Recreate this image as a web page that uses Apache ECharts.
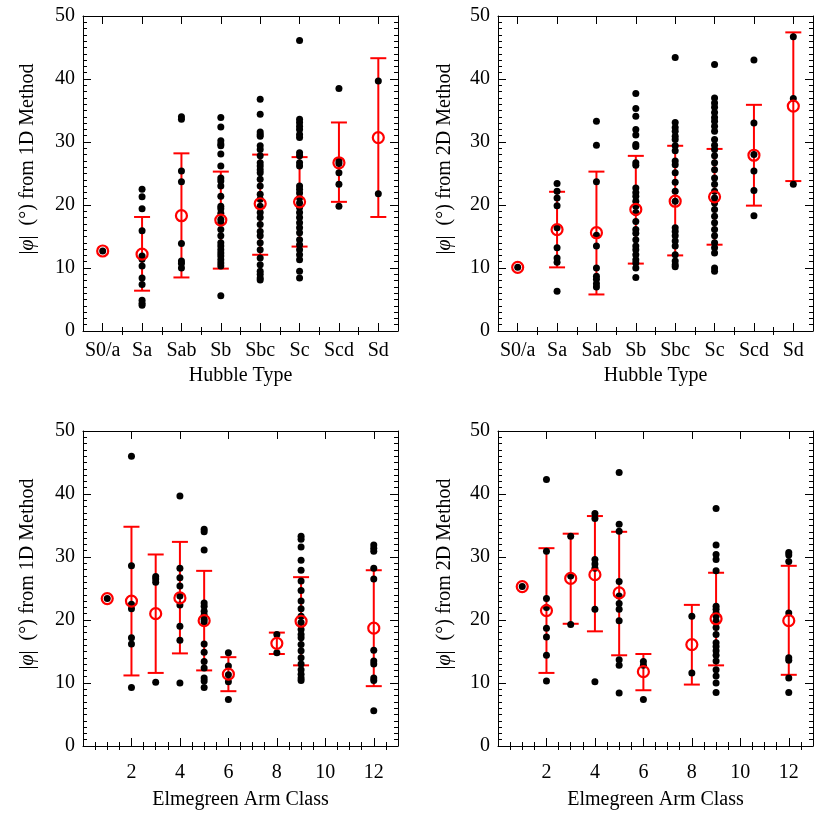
<!DOCTYPE html>
<html><head><meta charset="utf-8">
<script src="https://cdn.jsdelivr.net/npm/echarts@6/dist/echarts.min.js"></script>
<style>html,body{margin:0;padding:0;background:#fff}#c{width:830px;height:830px}</style>
</head><body><div id="c"></div>
<script>
// ---------- data ----------
const hubbleTypes = ['S0/a','Sa','Sab','Sb','Sbc','Sc','Scd','Sd'];
const armClasses = [1,2,3,4,5,6,8,9,12];
const yTicks = [0,10,20,30,40,50];
const armTickLabels = [2,4,6,8,10,12];

const hubble1dDots = [
  [12.7],
  [22.5,21.3,19.4,15.9,11.9,11.4,10.3,8.4,7.4,4.9,4.4,4.1],
  [34.0,33.6,25.4,23.7,13.9,11.1,10.7,10.0],
  [33.9,32.4,30.2,29.7,29.4,28.1,26.2,24.3,23.8,23.0,21.4,19.8,19.4,18.7,17.7,17.2,16.1,15.1,14.0,13.5,12.9,12.4,11.9,11.3,10.8,10.3,5.6],
  [36.8,34.4,31.6,31.2,30.9,29.4,28.8,27.8,26.7,26.2,25.6,25.1,24.1,23.0,21.7,20.9,19.8,18.8,18.0,16.9,15.8,15.1,14.0,12.9,11.6,10.5,9.5,9.0,8.4,8.1],
  [46.1,33.6,33.1,32.5,32.0,31.2,30.7,28.3,27.8,26.7,26.2,23.0,22.5,21.9,21.1,20.3,19.6,18.8,18.0,17.2,16.4,15.6,14.5,13.7,12.9,12.1,11.3,9.5,8.4],
  [38.5,27.0,26.6,25.1,23.3,19.8],
  [39.7,21.8]
];
const hubble1dMean = [12.7,12.2,18.3,17.6,20.2,20.5,26.7,30.7];
const hubble1dHi   = [null,18.1,28.2,25.3,28.0,27.6,33.1,43.3];
const hubble1dLo   = [null,6.4,8.5,9.9,12.1,13.4,20.5,18.1];

const hubble2dDots = [
  [10.1],
  [23.4,22.2,21.1,19.9,16.4,13.2,11.6,10.9,6.3],
  [33.3,29.5,23.7,15.2,13.5,10.0,8.7,8.2,7.5,7.0],
  [37.7,35.3,34.1,32.0,31.1,29.6,29.3,26.7,26.3,22.7,22.0,21.4,20.6,19.8,18.8,17.4,16.1,15.5,14.5,13.5,12.9,12.1,11.3,10.8,10.0,8.5],
  [43.4,33.1,32.3,31.7,30.9,30.4,29.4,28.6,27.0,26.4,25.1,23.6,22.2,20.6,16.4,15.8,15.1,14.3,13.5,12.1,11.1,10.5,10.2],
  [42.3,37.0,36.2,35.5,34.7,33.9,33.3,32.5,31.7,30.4,29.5,28.8,27.8,26.7,25.6,24.3,23.3,22.2,21.1,20.3,19.3,18.2,17.2,16.1,15.1,14.0,13.2,12.4,10.0,9.5],
  [43.0,33.0,28.0,25.4,22.3,18.3],
  [46.7,36.9,23.3]
];
const hubble2dMean = [10.1,16.1,15.6,19.3,20.6,21.3,27.9,35.7];
const hubble2dHi   = [null,22.1,25.3,27.8,29.4,28.9,35.9,47.4];
const hubble2dLo   = [null,10.1,5.8,10.7,12.0,13.7,19.9,23.8];

const arm1dDots = [
  [23.4],
  [46.0,28.6,22.5,21.8,17.2,16.2,9.3],
  [26.9,26.5,26.0,10.1],
  [39.7,28.2,26.7,25.4,23.8,22.4,19.0,16.8,10.0],
  [34.4,34.0,31.1,22.7,22.2,21.4,20.8,20.1,19.7,16.2,14.9,13.4,12.4,10.8,10.3,9.3],
  [14.8,12.7,11.3,10.2,7.4],
  [17.7,14.8],
  [33.3,32.8,31.6,29.5,27.9,26.2,24.7,23.0,21.8,20.6,19.6,18.5,17.7,17.2,16.1,15.1,14.0,13.0,12.1,11.4,10.8,10.4],
  [31.9,31.4,30.9,28.2,26.5,15.2,13.5,13.0,10.8,10.4,5.6]
];
const arm1dMean = [23.4,23.0,21.0,23.5,19.9,11.4,16.3,19.8,18.7];
const arm1dHi   = [null,34.8,30.4,32.4,27.8,14.1,18.0,26.8,27.9];
const arm1dLo   = [null,11.2,11.6,14.7,12.0,8.7,14.6,12.8,9.5];

const arm2dDots = [
  [25.3],
  [42.3,30.9,23.4,22.0,18.7,17.3,14.4,10.3],
  [33.3,27.0,19.3],
  [36.9,36.1,29.6,28.9,28.2,21.7,10.2],
  [43.4,35.2,34.1,26.1,23.8,22.6,21.7,19.9,13.7,12.8,8.4],
  [13.4,12.8,7.4],
  [20.6,11.6],
  [37.7,31.9,30.4,29.6,27.8,22.2,21.7,21.1,20.6,19.8,18.8,17.7,16.4,15.8,15.1,14.4,13.5,12.1,11.1,10.0,8.5],
  [30.7,30.3,29.3,21.1,14.0,13.6,10.8,8.5]
];
const arm2dMean = [25.3,21.5,26.6,27.2,24.3,11.8,16.1,20.2,19.9];
const arm2dHi   = [null,31.4,33.7,36.5,34.0,14.6,22.4,27.5,28.6];
const arm2dLo   = [null,11.6,19.4,18.2,14.4,8.85,9.75,12.8,11.3];

// ---------- chart ----------
const FONT = '"Liberation Serif","Times New Roman",serif';
const hubblePos = hubbleTypes.map((t, i) => i + 1);

const grids = [
  {left: 83, top: 16, width: 315, height: 315},
  {left: 498, top: 16, width: 315, height: 315},
  {left: 83, top: 431, width: 315, height: 315},
  {left: 498, top: 431, width: 315, height: 315}
];

function range(a, b, s) { const r = []; for (let v = a; v <= b + 1e-9; v += s) r.push(+v.toFixed(3)); return r; }

const panels = [
  {xs: hubblePos, dots: hubble1dDots, mean: hubble1dMean, hi: hubble1dHi, lo: hubble1dLo, kind: 'hubble', method: '1D'},
  {xs: hubblePos, dots: hubble2dDots, mean: hubble2dMean, hi: hubble2dHi, lo: hubble2dLo, kind: 'hubble', method: '2D'},
  {xs: armClasses, dots: arm1dDots, mean: arm1dMean, hi: arm1dHi, lo: arm1dLo, kind: 'arm', method: '1D'},
  {xs: armClasses, dots: arm2dDots, mean: arm2dMean, hi: arm2dHi, lo: arm2dLo, kind: 'arm', method: '2D'}
];

const xAxes = [], yAxes = [], series = [], graphics = [];
const black = '#000';

panels.forEach((p, g) => {
  const isH = p.kind === 'hubble';
  const min = isH ? 0.5 : 0, max = isH ? hubbleTypes.length + 0.5 : 13;
  const majors = isH ? hubblePos : armTickLabels;
  const minors = isH ? range(1.5, hubbleTypes.length - 0.5, 1) : range(0.5, 12.5, 0.5).filter(v => armTickLabels.indexOf(v) < 0);
  const base = {gridIndex: g, type: 'value', min: min, max: max, splitLine: {show: false}};
  xAxes.push(Object.assign({}, base, {
    position: 'bottom',
    axisLine: {show: true, onZero: false, lineStyle: {color: black, width: 1}},
    axisTick: {show: true, inside: true, length: 8, customValues: majors, lineStyle: {color: black}},
    axisLabel: {show: true, customValues: majors, color: black, fontSize: 20, fontFamily: FONT,
      margin: isH ? 10 : 17,
      formatter: v => isH ? hubbleTypes[Math.round(v) - 1] : String(v)},
    name: isH ? 'Hubble Type' : 'Elmegreen Arm Class',
    nameLocation: 'middle', nameGap: isH ? 35 : 44,
    nameTextStyle: {color: black, fontSize: 20, fontFamily: FONT}
  }));
  xAxes.push(Object.assign({}, base, {
    position: 'bottom', axisLine: {show: false},
    axisTick: {show: true, inside: true, length: 4, customValues: minors, lineStyle: {color: black}},
    axisLabel: {show: false}
  }));
  xAxes.push(Object.assign({}, base, {
    position: 'top',
    axisLine: {show: true, onZero: false, lineStyle: {color: black, width: 1}},
    axisTick: {show: true, inside: true, length: 8, customValues: majors, lineStyle: {color: black}},
    axisLabel: {show: false}
  }));
  xAxes.push(Object.assign({}, base, {
    position: 'top', axisLine: {show: false},
    axisTick: {show: true, inside: true, length: 4, customValues: minors, lineStyle: {color: black}},
    axisLabel: {show: false}
  }));
  const ybase = {gridIndex: g, type: 'value', min: 0, max: 50, interval: 10, splitLine: {show: false},
    axisLine: {show: true, onZero: false, lineStyle: {color: black, width: 1}},
    axisTick: {show: true, inside: true, length: 8, lineStyle: {color: black}},
    minorTick: {show: true, splitNumber: 10, length: 4, lineStyle: {color: black}},
    minorSplitLine: {show: false}};
  yAxes.push(Object.assign({}, ybase, {position: 'left',
    axisLabel: {show: true, color: black, fontSize: 20, fontFamily: FONT, margin: 8}}));
  yAxes.push(Object.assign({}, ybase, {position: 'right', axisLabel: {show: false}}));

  const xi = g * 4, yi = g * 2;
  const errData = [];
  p.xs.forEach((x, i) => { if (p.hi[i] != null) errData.push([x, p.lo[i], p.hi[i]]); });
  series.push({
    type: 'custom', xAxisIndex: xi, yAxisIndex: yi, z: 2, clip: false,
    data: errData,
    renderItem: function (params, api) {
      const x = api.value(0);
      const a = api.coord([x, api.value(2)]), b = api.coord([x, api.value(1)]);
      const w = 8, st = {stroke: '#ff0000', lineWidth: 2};
      return {type: 'group', children: [
        {type: 'line', shape: {x1: a[0], y1: a[1], x2: b[0], y2: b[1]}, style: st},
        {type: 'line', shape: {x1: a[0] - w, y1: a[1], x2: a[0] + w, y2: a[1]}, style: st},
        {type: 'line', shape: {x1: b[0] - w, y1: b[1], x2: b[0] + w, y2: b[1]}, style: st}
      ]};
    }
  });
  const dotData = [];
  p.xs.forEach((x, i) => p.dots[i].forEach(v => dotData.push([x, v])));
  series.push({
    type: 'scatter', xAxisIndex: xi, yAxisIndex: yi, z: 3, symbol: 'circle', symbolSize: 7,
    itemStyle: {color: black, opacity: 1}, data: dotData, silent: true
  });
  series.push({
    type: 'scatter', xAxisIndex: xi, yAxisIndex: yi, z: 4, symbol: 'circle', symbolSize: 11,
    itemStyle: {color: 'rgba(0,0,0,0)', borderColor: '#ff0000', borderWidth: 2.2, opacity: 1},
    data: p.xs.map((x, i) => [x, p.mean[i]]), silent: true
  });

  const gr = grids[g];
  graphics.push({
    type: 'text',
    x: g % 2 === 0 ? 28 : 445,
    y: gr.top + 143,
    rotation: Math.PI / 2,
    style: {
      text: '|{i|φ}|  (°) from ' + p.method + ' Method',
      rich: {i: {fontStyle: 'italic', fontSize: 20, fontFamily: FONT, fill: black}},
      fontSize: 20, fontFamily: FONT, fill: black,
      align: 'center', verticalAlign: 'middle'
    }
  });
});

const chart = echarts.init(document.getElementById('c'), null, {renderer: 'canvas'});
chart.setOption({
  animation: false,
  backgroundColor: '#fff',
  grid: grids,
  xAxis: xAxes,
  yAxis: yAxes,
  series: series,
  graphic: graphics
});
</script>
</body></html>
